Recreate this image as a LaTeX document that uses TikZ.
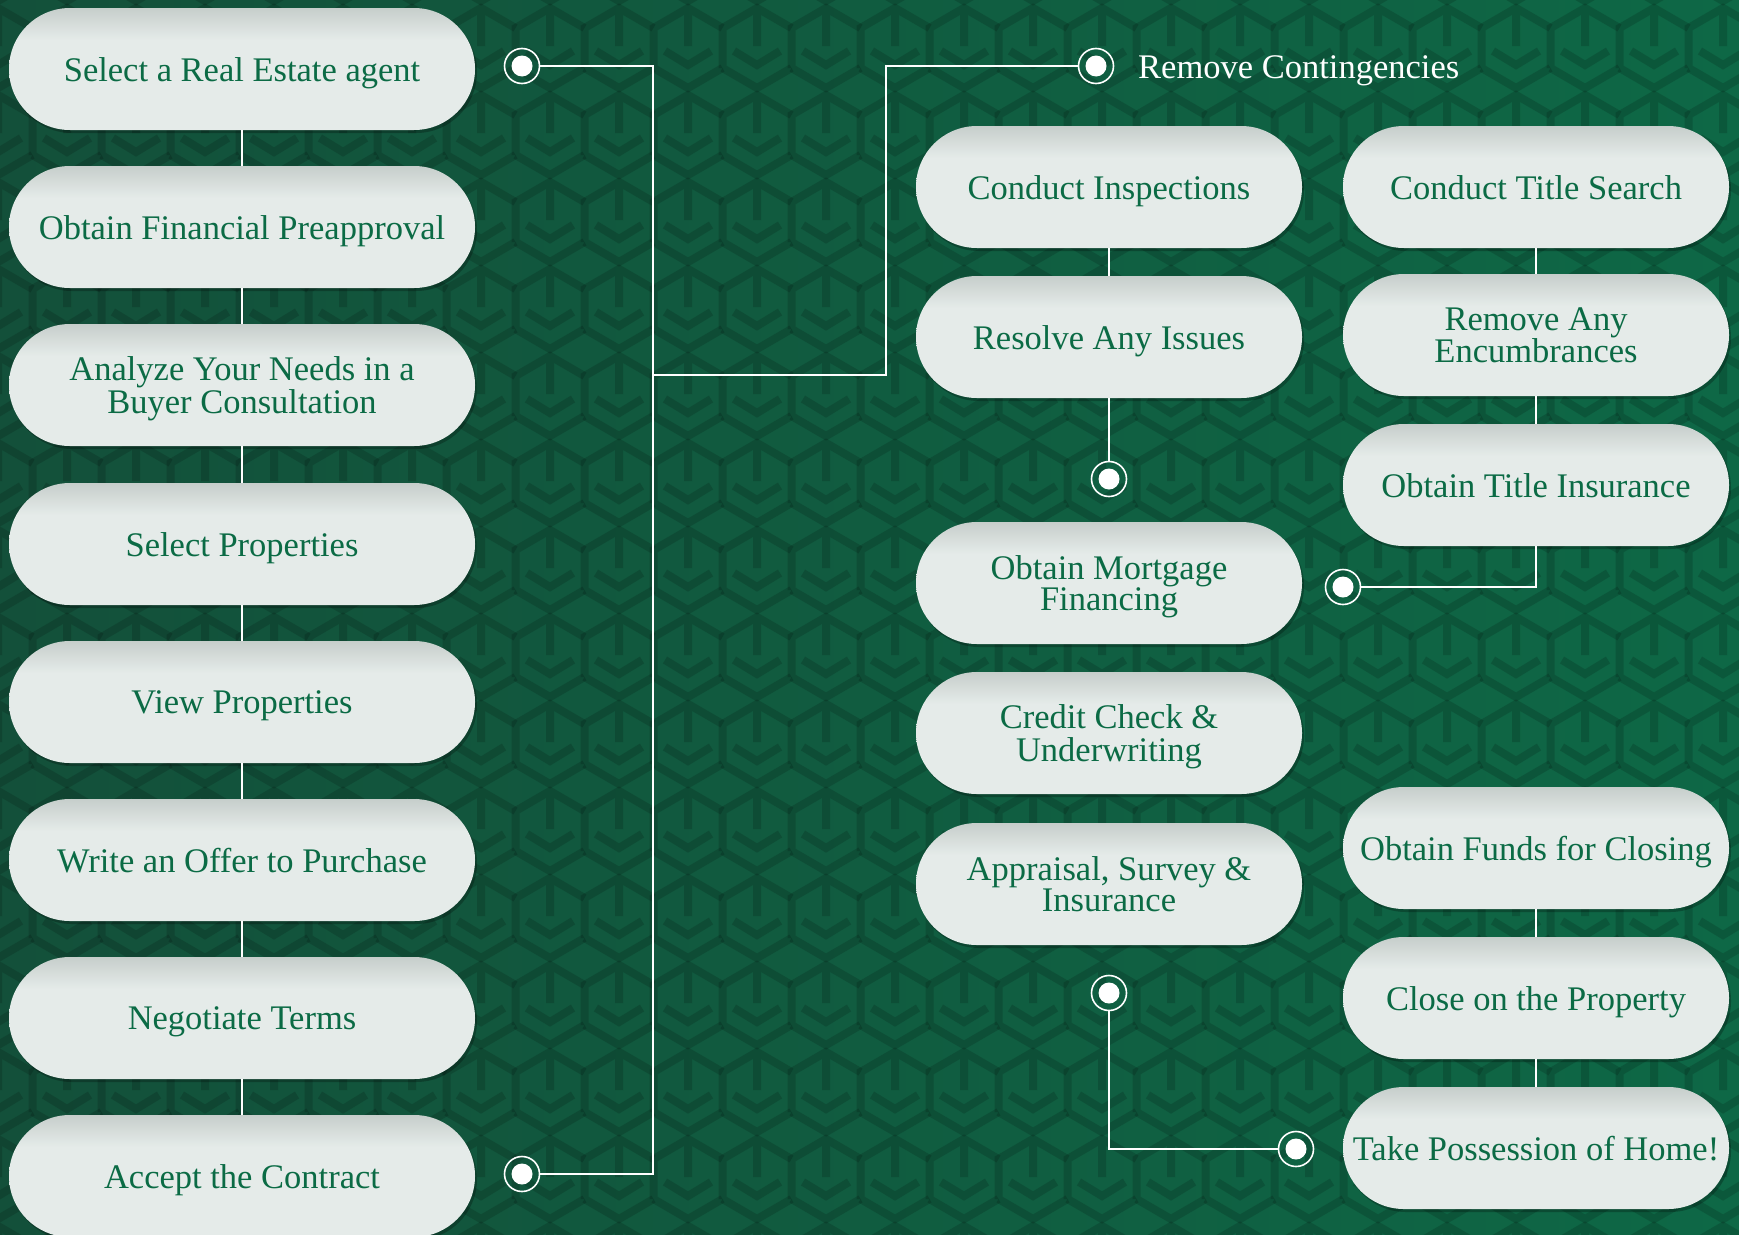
\documentclass[tikz,border=0pt]{standalone}
\usepackage{fontspec}
\setmainfont{Liberation Serif}
\usetikzlibrary{shadows}
\definecolor{bgA}{HTML}{13503A}
\definecolor{bgB}{HTML}{0E6846}
\definecolor{txt}{HTML}{0B6B45}
\definecolor{pillA}{HTML}{E5EBE9}
\definecolor{pillT}{HTML}{C6CECB}
\pgfdeclareverticalshading{pillshade}{100bp}{color(0bp)=(pillA); color(25bp)=(pillA); color(62bp)=(pillA); color(75bp)=(pillT); color(100bp)=(pillT)}
\renewcommand{\arraystretch}{0.9}
\newcommand{\ptx}[1]{\raisebox{-4.5pt}[\height][\depth]{\begin{tabular}{@{}c@{}}#1\end{tabular}}}
\tikzset{
  pill/.style={rectangle, rounded corners=60.9pt, minimum height=122pt, inner sep=0pt,
    text=txt, font=\fontsize{34.5}{32}\selectfont, shading=pillshade,
    drop shadow={shadow xshift=2pt, shadow yshift=-3pt, opacity=0.25, fill=black}},
  lpill/.style={pill, minimum width=466pt},
  rpill/.style={pill, minimum width=386pt},
  conn/.style={draw=white, line width=2.5pt},
  ring/.style={circle, draw=white, line width=1.6pt, minimum size=35pt, inner sep=0pt},
  motif/.style={draw=black, opacity=0.15, line width=8pt, line join=miter},
}
\newcommand{\dotin}[1]{\fill[white] (#1.center) circle[radius=10.5pt];}
\begin{document}
\begin{tikzpicture}[x=1pt,y=-1pt]
\useasboundingbox (0,0) rectangle (1739,1234);
% background
\shade[left color=bgA, right color=bgB] (0,0) rectangle (1739,1234);
\begin{scope}
\clip (0,0) rectangle (1739,1234);
\foreach \i in {0,...,26}{
  \foreach \j in {0,...,15}{
    \begin{scope}[shift={({-2+69*\i},{-39+87*\j})}]
      \draw[motif] (-34.5,20) -- (-34.5,-20) -- (0,-40) -- (34.5,-20)
                   (34.5,20) -- (0,40) -- (-34.5,20)
                   (0,-40) -- (0,-2)
                   (-23,3) -- (0,17) -- (23,3);
    \end{scope}
  }
}
\end{scope}

% left column
\node[lpill] (l1) at (242,69)  {\ptx{Select a Real Estate agent}};
\node[lpill] (l2) at (242,227) {\ptx{Obtain Financial Preapproval}};
\node[lpill] (l3) at (242,385) {\ptx{Analyze Your Needs in a\\Buyer Consultation}};
\node[lpill] (l4) at (242,544) {\ptx{Select Properties}};
\node[lpill] (l5) at (242,702) {\ptx{View Properties}};
\node[lpill] (l6) at (242,860) {\ptx{Write an Offer to Purchase}};
\node[lpill] (l7) at (242,1018) {\ptx{Negotiate Terms}};
\node[lpill] (l8) at (242,1176) {\ptx{Accept the Contract}};

% middle column
\node[rpill] (m1) at (1109,187) {\ptx{Conduct Inspections}};
\node[rpill] (m2) at (1109,337) {\ptx{Resolve Any Issues}};
\node[rpill] (m3) at (1109,583) {\ptx{Obtain Mortgage\\Financing}};
\node[rpill] (m4) at (1109,733) {\ptx{Credit Check \&\\Underwriting}};
\node[rpill] (m5) at (1109,884) {\ptx{Appraisal, Survey \&\\Insurance}};

% right column
\node[rpill] (r1) at (1536,187) {\ptx{Conduct Title Search}};
\node[rpill] (r2) at (1536,335) {\ptx{Remove Any\\Encumbrances}};
\node[rpill] (r3) at (1536,485) {\ptx{Obtain Title Insurance}};
\node[rpill] (r4) at (1536,848) {\ptx{Obtain Funds for Closing}};
\node[rpill] (r5) at (1536,998) {\ptx{Close on the Property}};
\node[rpill] (r6) at (1536,1148) {\ptx{Take Possession of Home!}};

% rings
\node[ring] (d1) at (522,66) {};
\node[ring] (d2) at (522,1174) {};
\node[ring] (d3) at (1096,66) {};
\node[ring] (d4) at (1109,479) {};
\node[ring] (d5) at (1343,587) {};
\node[ring] (d6) at (1109,993) {};
\node[ring] (d7) at (1296,1149) {};
\foreach \d in {d1,d2,d3,d4,d5,d6,d7}{\dotin{\d}}

\node[anchor=west, inner sep=0pt, text=white, font=\fontsize{34.5}{32}\selectfont] (rc) at (1138,70.5) {Remove Contingencies};

% connectors
\coordinate (bx) at (653,375);
\coordinate (by) at (886,375);
\draw[conn] (d1.east) -| (bx) |- (d2.east);
\draw[conn] (bx) -- (by) |- (d3.west);
\foreach \a/\b in {l1/l2,l2/l3,l3/l4,l4/l5,l5/l6,l6/l7,l7/l8,m1/m2,r1/r2,r2/r3,r4/r5,r5/r6}{
  \draw[conn] (\a.south) -- (\b.north);
}
\draw[conn] (m2.south) -- (d4.north);
\draw[conn] (r3.south) |- (d5.east);
\draw[conn] (d6.south) |- (d7.west);
\end{tikzpicture}
\end{document}
